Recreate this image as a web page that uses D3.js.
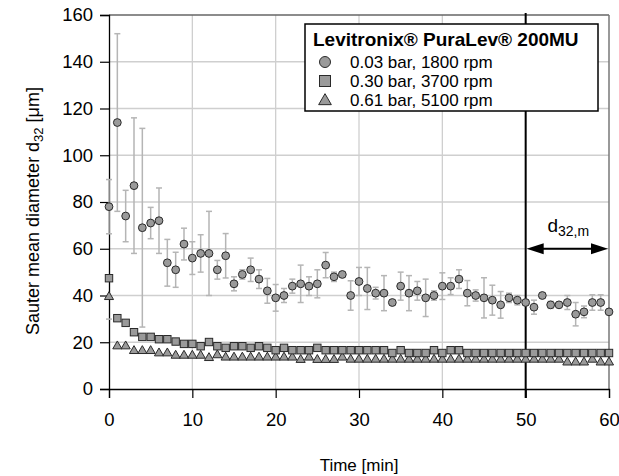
<!DOCTYPE html>
<html>
<head>
<meta charset="utf-8">
<script src="https://cdn.jsdelivr.net/npm/d3@7"></script>
<style>
  body { margin: 0; background: #fff; }
  text { font-family: "Liberation Sans", Arial, sans-serif; fill: #000; }
</style>
</head>
<body>
<svg id="chart" width="619" height="476"></svg>
<script>
// time in minutes, one reading per minute
const minutes = d3.range(0, 61);

// 0.03 bar, 1800 rpm
const circleVals = [78, 114, 74, 87, 69, 71, 72, 54, 51, 62,
  56, 58, 58, 51, 57, 45, 49, 51, 47, 42,
  39, 40, 44, 45, 44, 45, 53, 48, 49, 40,
  46, 43, 41, 41, 37, 44, 41, 42, 39, 40,
  44, 44, 47, 41, 40, 39, 38, 36, 39, 38,
  37, 35, 40, 36, 36, 37, 32, 33, 37, 37, 33];
const circleErr = [11.6, 38, 11, 29, 42.5, 6.7, 14, 10, 7.5, 6.8,
  7, 8, 18, 4, 9.5, 3, 2, 5, 4, 5.3,
  5.7, 3, 3, 8, 4, 6, 5.4, 2, 1, 6.3,
  6, 9, 2.5, 7.5, 1, 6, 7.5, 4, 8, 2,
  5.7, 3.6, 4, 5.4, 2.4, 8.6, 6.4, 5.7, 2, 2,
  1, 3, 1, 1.5, 1, 3, 5, 2.5, 3.3, 3.3, 0];

// 0.30 bar, 3700 rpm
const squareVals = [47.4, 30.3, 28.3, 24.3, 22.3, 22.3, 21.3, 21.3, 20.3, 19.3,
  19.3, 18.3, 20.1, 18.3, 17.6, 18.3, 18.3, 17.6, 18.3, 17.6,
  16.6, 17.6, 16.6, 16.6, 16.6, 17.6, 16.6, 16.6, 16.6, 16.6,
  16.6, 16.6, 16.6, 16.6, 15.4, 16.6, 15.4, 15.4, 15.4, 16.6,
  15.4, 16.6, 16.6, 15.4, 15.4, 15.4, 15.4, 15.4, 15.4, 15.4,
  15.4, 15.4, 15.4, 15.4, 15.4, 15.4, 15.4, 15.4, 15.4, 15.4, 15.4];

// 0.61 bar, 5100 rpm
const triangleVals = [39.4, 18.3, 18.3, 16.3, 16.3, 16.3, 15.3, 15.3, 14.3, 14.3,
  14.3, 14.3, 13.3, 14.5, 13.5, 13.5, 13.5, 13.5, 13.5, 13.5,
  13.5, 13.5, 13.5, 12.5, 13.5, 12.5, 12.5, 12.5, 13.5, 12.6,
  12.6, 12.6, 12.6, 12.6, 12.6, 12.6, 12.6, 12.6, 12.6, 12.6,
  12.6, 12.6, 12.6, 12.6, 12.6, 12.6, 12.6, 12.6, 12.6, 12.6,
  12.6, 12.6, 12.6, 12.6, 12.6, 11.4, 11.4, 11.4, 12.6, 11.4, 11.4];
const triangleErr = [9.5];

const xTicks = [0, 10, 20, 30, 40, 50, 60];
const yTicks = [0, 20, 40, 60, 80, 100, 120, 140, 160];
const legendTitle = "Levitronix\u00AE PuraLev\u00AE 200MU";
const legendLabels = ["0.03 bar, 1800 rpm", "0.30 bar, 3700 rpm", "0.61 bar, 5100 rpm"];
const meanStart = 50, meanEnd = 60, arrowLevel = 60;

let margin = { top: 15, right: 10, bottom: 87, left: 109 };
let width = 619 - margin.left - margin.right;
let height = 476 - margin.top - margin.bottom;

let svg = d3.select("#chart");
let g = svg.append("g").attr("transform", `translate(${margin.left},${margin.top})`);

let x = d3.scaleLinear().domain([0, 60]).range([0, width]);
let y = d3.scaleLinear().domain([0, 160]).range([height, 0]);

// grid
g.append("g").selectAll("line.gx")
  .data(xTicks.slice(1, -1))
  .enter().append("line")
  .attr("x1", d => x(d)).attr("x2", d => x(d))
  .attr("y1", 0).attr("y2", height)
  .attr("stroke", "#cfcfcf").attr("stroke-width", 1.3);
g.append("g").selectAll("line.gy")
  .data(yTicks.slice(1, -1))
  .enter().append("line")
  .attr("x1", 0).attr("x2", width)
  .attr("y1", d => y(d)).attr("y2", d => y(d))
  .attr("stroke", "#cfcfcf").attr("stroke-width", 1.3);

// top and right frame
g.append("line").attr("x1", 0).attr("x2", width).attr("y1", 0).attr("y2", 0)
  .attr("stroke", "#666").attr("stroke-width", 1.5);
g.append("line").attr("x1", width).attr("x2", width).attr("y1", 0).attr("y2", height)
  .attr("stroke", "#777").attr("stroke-width", 1.5);

// axes
let xAxis = g.append("g")
  .attr("transform", `translate(0,${height})`)
  .call(d3.axisBottom(x).tickValues(xTicks).tickSize(9).tickPadding(15).tickFormat(d3.format("d")));
let yAxis = g.append("g")
  .call(d3.axisLeft(y).tickValues(yTicks).tickSize(9).tickPadding(7).tickFormat(d3.format("d")));
[xAxis, yAxis].forEach(a => {
  a.select(".domain").attr("stroke", "#000").attr("stroke-width", 1.3);
  a.selectAll(".tick line").attr("stroke", "#000").attr("stroke-width", 1.2);
  a.selectAll(".tick text").style("font-size", "18.5px").style("font-family", "Liberation Sans, Arial, sans-serif");
});

// vertical line at 50 min
g.append("line")
  .attr("x1", x(meanStart)).attr("x2", x(meanStart))
  .attr("y1", -2).attr("y2", height + 9)
  .attr("stroke", "#000").attr("stroke-width", 2);

// error bars (circles)
let errData = minutes.map((m, i) => ({ m: m, v: circleVals[i], e: circleErr[i] })).filter(d => d.e > 0);
let eb = g.append("g").attr("stroke", "#b5b5b5").attr("stroke-width", 1.5);
eb.selectAll("line.v").data(errData).enter().append("line")
  .attr("x1", d => x(d.m)).attr("x2", d => x(d.m))
  .attr("y1", d => y(d.v + d.e)).attr("y2", d => y(d.v - d.e));
eb.selectAll("line.t").data(errData).enter().append("line")
  .attr("x1", d => x(d.m) - 3).attr("x2", d => x(d.m) + 3)
  .attr("y1", d => y(d.v + d.e)).attr("y2", d => y(d.v + d.e));
eb.selectAll("line.b").data(errData).enter().append("line")
  .attr("x1", d => x(d.m) - 3).attr("x2", d => x(d.m) + 3)
  .attr("y1", d => y(d.v - d.e)).attr("y2", d => y(d.v - d.e));
// triangle error bar at start
eb.selectAll("line.tb").data(triangleErr).enter().append("line")
  .attr("x1", (d, i) => x(minutes[i]) - 3).attr("x2", (d, i) => x(minutes[i]) + 3)
  .attr("y1", (d, i) => y(triangleVals[i] - d)).attr("y2", (d, i) => y(triangleVals[i] - d));

const markFill = "#9a9a9a", markStroke = "#2a2a2a";
let triangle = d3.symbol().type(d3.symbolTriangle).size(36);

g.append("g").selectAll("path")
  .data(triangleVals).enter().append("path")
  .attr("d", triangle)
  .attr("transform", (d, i) => `translate(${x(minutes[i])},${y(d)})`)
  .attr("fill", markFill).attr("stroke", markStroke).attr("stroke-width", 1);

g.append("g").selectAll("rect")
  .data(squareVals).enter().append("rect")
  .attr("x", (d, i) => x(minutes[i]) - 3.7)
  .attr("y", d => y(d) - 3.7)
  .attr("width", 7.4).attr("height", 7.4)
  .attr("fill", markFill).attr("stroke", markStroke).attr("stroke-width", 1);

g.append("g").selectAll("circle")
  .data(circleVals).enter().append("circle")
  .attr("cx", (d, i) => x(minutes[i]))
  .attr("cy", d => y(d))
  .attr("r", 3.9)
  .attr("fill", markFill).attr("stroke", markStroke).attr("stroke-width", 1);

// double arrow for averaging window
let ay = y(arrowLevel);
g.append("line")
  .attr("x1", x(meanStart) + 14).attr("x2", x(meanEnd) - 14)
  .attr("y1", ay).attr("y2", ay)
  .attr("stroke", "#000").attr("stroke-width", 2.2);
g.append("path")
  .attr("d", `M${x(meanStart) + 1},${ay} L${x(meanStart) + 18},${ay - 5.5} L${x(meanStart) + 18},${ay + 5.5} Z`)
  .attr("fill", "#000");
g.append("path")
  .attr("d", `M${x(meanEnd) - 1},${ay} L${x(meanEnd) - 18},${ay - 5.5} L${x(meanEnd) - 18},${ay + 5.5} Z`)
  .attr("fill", "#000");
let dm = g.append("text")
  .attr("x", (x(meanStart) + x(meanEnd)) / 2 + 1)
  .attr("y", ay - 17)
  .attr("text-anchor", "middle")
  .style("font-size", "19px");
dm.append("tspan").text("d");
dm.append("tspan").attr("baseline-shift", "-30%").style("font-size", "14px").text("32,m");

// legend
let lg = svg.append("g").attr("transform", "translate(305,24)");
lg.append("rect").attr("width", 293).attr("height", 87)
  .attr("fill", "#fff").attr("stroke", "#000").attr("stroke-width", 1.5);
lg.append("text").attr("x", 8).attr("y", 22)
  .style("font-size", "19px").style("font-weight", "bold").text(legendTitle);
let rowY = [38, 57, 76];
lg.append("circle").attr("cx", 20).attr("cy", rowY[0]).attr("r", 5.5)
  .attr("fill", markFill).attr("stroke", markStroke);
lg.append("rect").attr("x", 14.5).attr("y", rowY[1] - 5.5).attr("width", 11).attr("height", 11)
  .attr("fill", markFill).attr("stroke", markStroke);
lg.append("path").attr("d", d3.symbol().type(d3.symbolTriangle).size(70))
  .attr("transform", `translate(20,${rowY[2] + 1})`)
  .attr("fill", markFill).attr("stroke", markStroke);
lg.selectAll("text.item").data(legendLabels).enter().append("text")
  .attr("x", 45).attr("y", (d, i) => rowY[i] + 6)
  .style("font-size", "17px").text(d => d);

// axis titles
svg.append("text")
  .attr("x", margin.left + width / 2).attr("y", 471)
  .attr("text-anchor", "middle").style("font-size", "17px").text("Time [min]");
let yl = svg.append("text")
  .attr("transform", "translate(39,211) rotate(-90)")
  .attr("text-anchor", "middle").style("font-size", "18px");
yl.append("tspan").text("Sauter mean diameter d");
yl.append("tspan").attr("baseline-shift", "-30%").style("font-size", "13px").text("32");
yl.append("tspan").text(" [\u03BCm]");
</script>
</body>
</html>
